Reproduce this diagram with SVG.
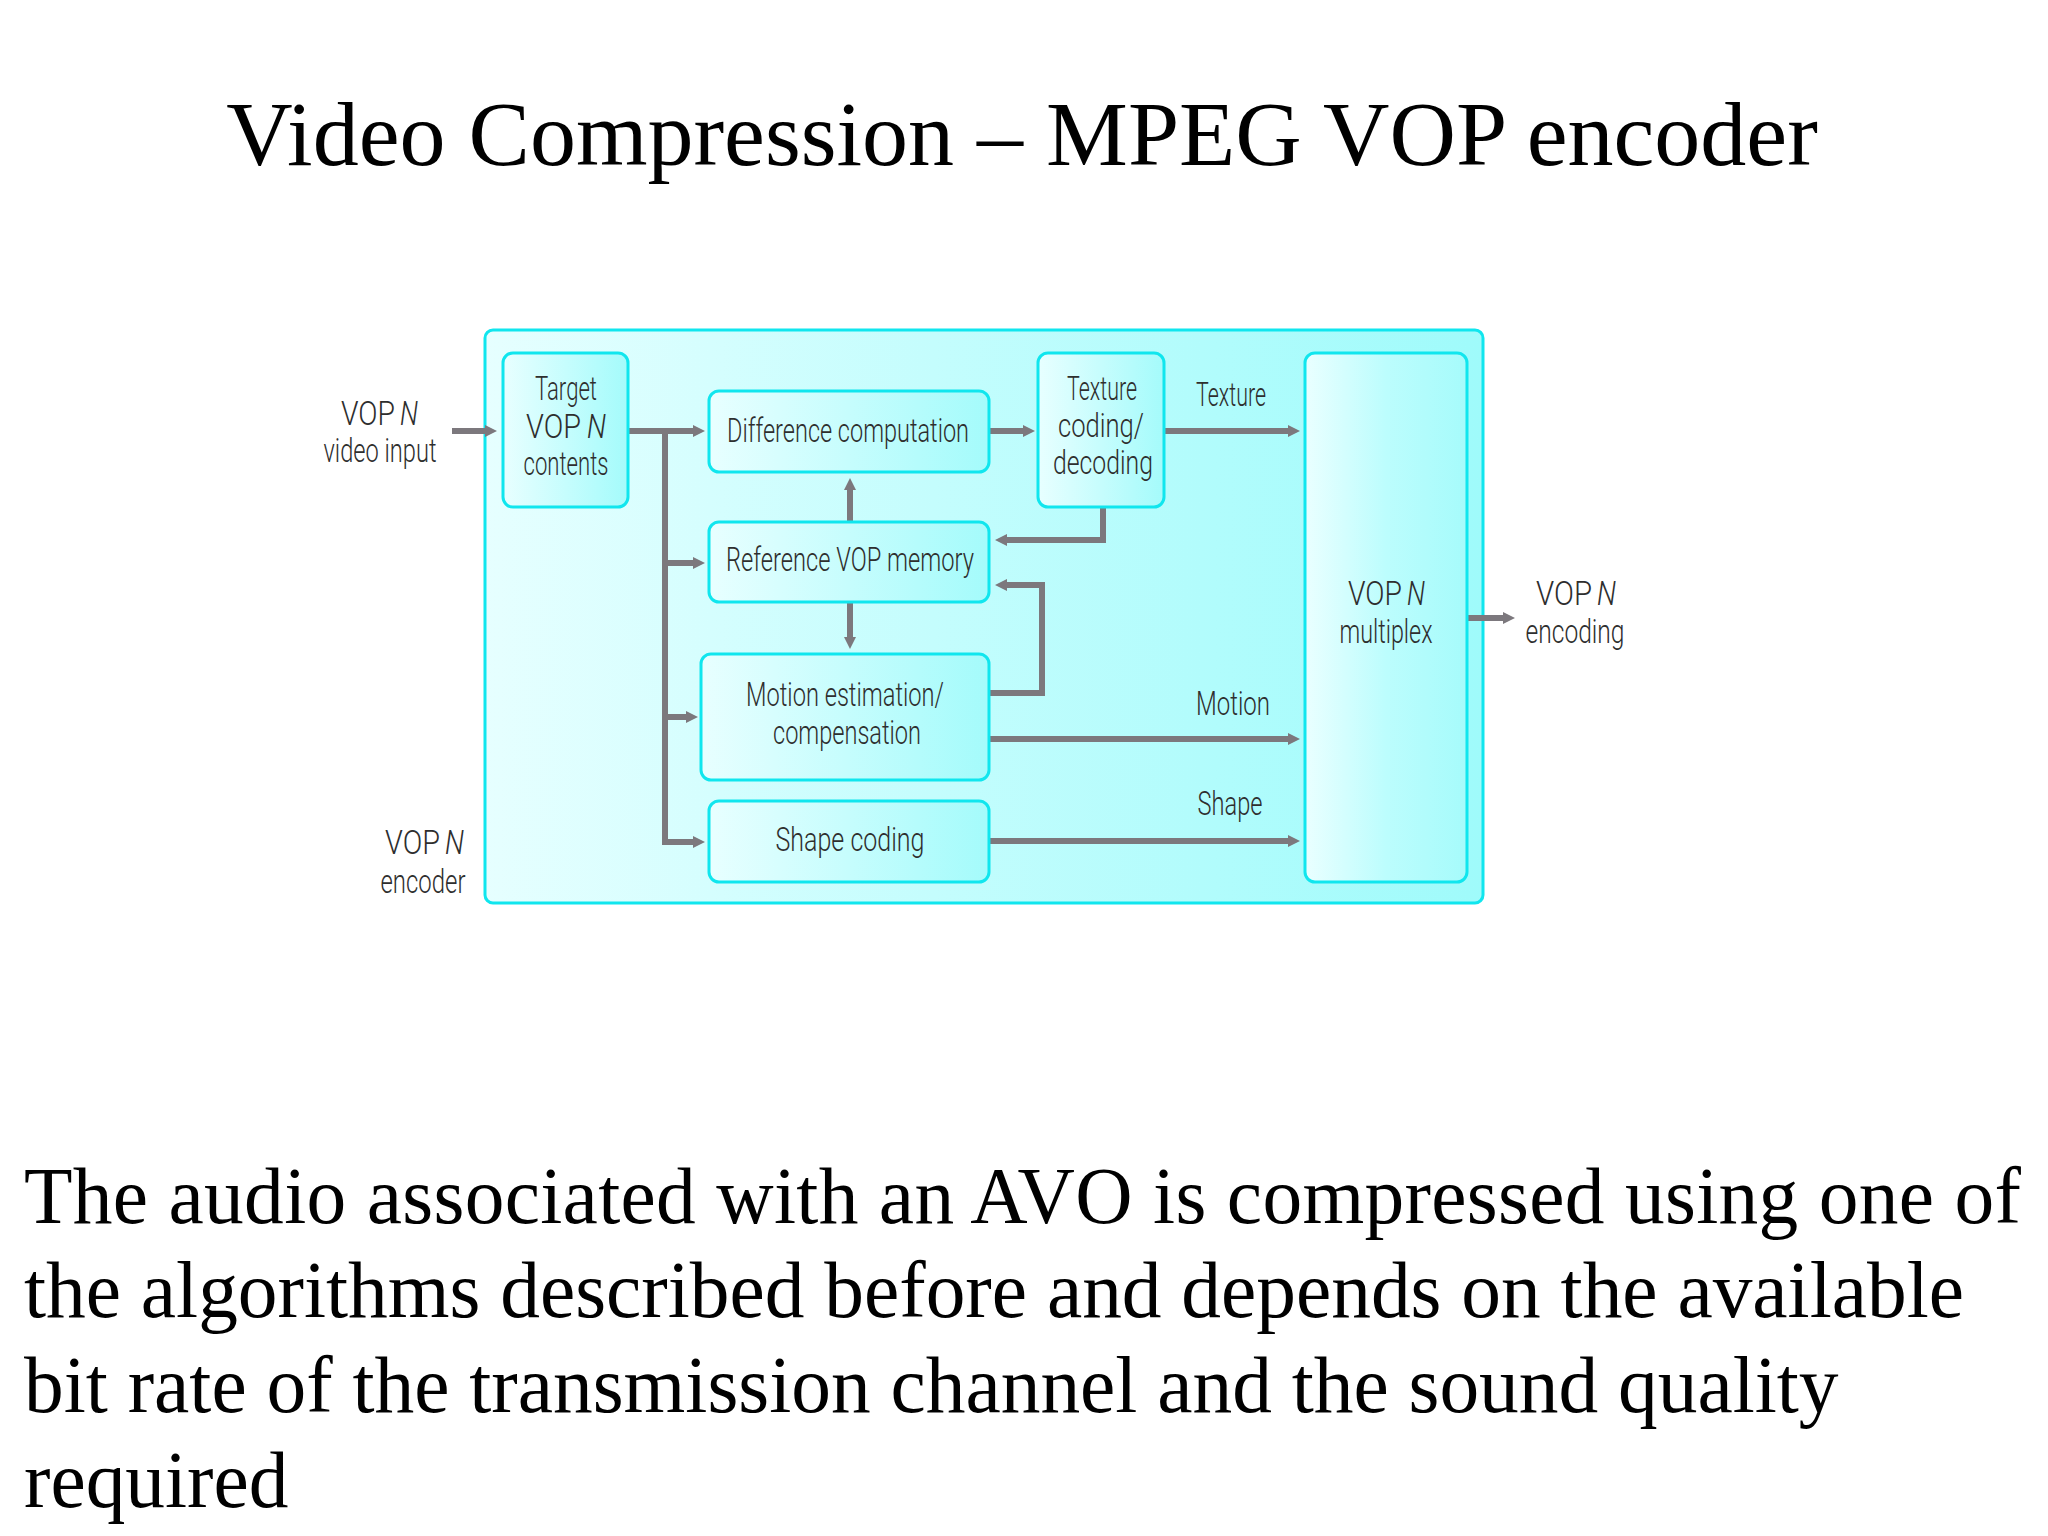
<svg xmlns="http://www.w3.org/2000/svg" width="2048" height="1536" viewBox="0 0 2048 1536">
<defs>
<linearGradient id="gOuter" x1="0" y1="0" x2="1" y2="0">
<stop offset="0" stop-color="#e6ffff"/>
<stop offset="0.45" stop-color="#c4fdfd"/>
<stop offset="1" stop-color="#9ffbfb"/>
</linearGradient>
<linearGradient id="gBox" x1="0" y1="0" x2="1" y2="0">
<stop offset="0" stop-color="#e8ffff"/>
<stop offset="1" stop-color="#a4fbfb"/>
</linearGradient>
<linearGradient id="gMux" x1="0" y1="0" x2="1" y2="0">
<stop offset="0" stop-color="#eaffff"/>
<stop offset="0.5" stop-color="#bcfdfd"/>
<stop offset="1" stop-color="#a6fbfb"/>
</linearGradient>
<marker id="ah" markerUnits="userSpaceOnUse" viewBox="0 0 12 12" refX="4" refY="6" markerWidth="12" markerHeight="12" orient="auto">
<path d="M0,0 L12,6 L0,12 z" fill="#7c787d"/>
</marker>
</defs>
<style>
.title{font-family:"Liberation Serif","Times New Roman",serif;font-size:92px;fill:#000}
.body{font-family:"Liberation Serif","Times New Roman",serif;font-size:79.4px;fill:#000}
.lbl{font-family:Roboto,"Liberation Sans",sans-serif;font-weight:300;font-size:33px;fill:#2e2e2e}
.it{font-style:italic}
.box{fill:url(#gBox);stroke:#10e6ee;stroke-width:3}
.conn{fill:none;stroke:#7c787d;stroke-width:6}
.arr{marker-end:url(#ah)}
</style>
<rect width="2048" height="1536" fill="#ffffff"/>
<text class="title" x="1022" y="165" text-anchor="middle">Video Compression – MPEG VOP encoder</text>

<g id="encoder">
<rect x="485" y="330" width="998" height="573" rx="8" fill="url(#gOuter)" stroke="#10e6ee" stroke-width="3"/>
</g>

<g id="connectors">
<path class="conn arr" d="M452,431 H489"/>
<path class="conn arr" d="M628,431 H697"/>
<path class="conn arr" d="M665,431 V842 H697"/>
<path class="conn arr" d="M665,563 H697"/>
<path class="conn arr" d="M665,717 H690"/>
<path class="conn arr" d="M989,431 H1027"/>
<path class="conn arr" d="M1164,431 H1292"/>
<path class="conn arr" d="M1103,507 V540 H1003"/>
<path class="conn arr" d="M850,522 V486"/>
<path class="conn arr" d="M850,602 V641"/>
<path class="conn arr" d="M989,693 H1042 V585 H1003"/>
<path class="conn arr" d="M989,739 H1292"/>
<path class="conn arr" d="M989,841 H1292"/>
<path class="conn arr" d="M1467,618 H1507"/>
</g>

<g id="target">
<rect class="box" x="503" y="353" width="125" height="154" rx="10"/>
<text class="lbl" x="566" y="400" text-anchor="middle" textLength="62" lengthAdjust="spacingAndGlyphs">Target</text>
<text class="lbl" x="526" y="438" textLength="55" lengthAdjust="spacingAndGlyphs">VOP</text>
<text class="lbl it" x="587" y="438" textLength="19" lengthAdjust="spacingAndGlyphs">N</text>
<text class="lbl" x="566" y="475" text-anchor="middle" textLength="85" lengthAdjust="spacingAndGlyphs">contents</text>
</g>

<g id="difference">
<rect class="box" x="709" y="391" width="280" height="81" rx="10"/>
<text class="lbl" x="848" y="442" text-anchor="middle" textLength="242" lengthAdjust="spacingAndGlyphs">Difference computation</text>
</g>

<g id="texture">
<rect class="box" x="1038" y="353" width="126" height="154" rx="10"/>
<text class="lbl" x="1102" y="400" text-anchor="middle" textLength="70" lengthAdjust="spacingAndGlyphs">Texture</text>
<text class="lbl" x="1101" y="437" text-anchor="middle" textLength="86" lengthAdjust="spacingAndGlyphs">coding/</text>
<text class="lbl" x="1103" y="474" text-anchor="middle" textLength="100" lengthAdjust="spacingAndGlyphs">decoding</text>
</g>

<g id="reference">
<rect class="box" x="709" y="522" width="280" height="80" rx="10"/>
<text class="lbl" x="850" y="571" text-anchor="middle" textLength="248" lengthAdjust="spacingAndGlyphs">Reference VOP memory</text>
</g>

<g id="motion">
<rect class="box" x="701" y="654" width="288" height="126" rx="10"/>
<text class="lbl" x="845" y="706" text-anchor="middle" textLength="198" lengthAdjust="spacingAndGlyphs">Motion estimation/</text>
<text class="lbl" x="847" y="744" text-anchor="middle" textLength="148" lengthAdjust="spacingAndGlyphs">compensation</text>
</g>

<g id="shape">
<rect class="box" x="709" y="801" width="280" height="81" rx="10"/>
<text class="lbl" x="850" y="851" text-anchor="middle" textLength="149" lengthAdjust="spacingAndGlyphs">Shape coding</text>
</g>

<g id="multiplex">
<rect x="1305" y="353" width="162" height="529" rx="10" fill="url(#gMux)" stroke="#10e6ee" stroke-width="3"/>
<text class="lbl" x="1348" y="605" textLength="54" lengthAdjust="spacingAndGlyphs">VOP</text>
<text class="lbl it" x="1407" y="605" textLength="18" lengthAdjust="spacingAndGlyphs">N</text>
<text class="lbl" x="1386" y="643" text-anchor="middle" textLength="93" lengthAdjust="spacingAndGlyphs">multiplex</text>
</g>

<g id="labels">
<text class="lbl" x="341" y="425" textLength="54" lengthAdjust="spacingAndGlyphs">VOP</text>
<text class="lbl it" x="400" y="425" textLength="18" lengthAdjust="spacingAndGlyphs">N</text>
<text class="lbl" x="380" y="462" text-anchor="middle" textLength="113" lengthAdjust="spacingAndGlyphs">video input</text>
<text class="lbl" x="385" y="854" textLength="55" lengthAdjust="spacingAndGlyphs">VOP</text>
<text class="lbl it" x="445" y="854" textLength="19" lengthAdjust="spacingAndGlyphs">N</text>
<text class="lbl" x="423" y="893" text-anchor="middle" textLength="85" lengthAdjust="spacingAndGlyphs">encoder</text>
<text class="lbl" x="1536" y="605" textLength="56" lengthAdjust="spacingAndGlyphs">VOP</text>
<text class="lbl it" x="1597" y="605" textLength="19" lengthAdjust="spacingAndGlyphs">N</text>
<text class="lbl" x="1575" y="643" text-anchor="middle" textLength="99" lengthAdjust="spacingAndGlyphs">encoding</text>
<text class="lbl" x="1231" y="406" text-anchor="middle" textLength="70" lengthAdjust="spacingAndGlyphs">Texture</text>
<text class="lbl" x="1233" y="715" text-anchor="middle" textLength="74" lengthAdjust="spacingAndGlyphs">Motion</text>
<text class="lbl" x="1230" y="815" text-anchor="middle" textLength="65" lengthAdjust="spacingAndGlyphs">Shape</text>
</g>

<g id="bodytext">
<text class="body" x="24" y="1223" textLength="1997" lengthAdjust="spacing">The audio associated with an AVO is compressed using one of</text>
<text class="body" x="24" y="1317">the algorithms described before and depends on the available</text>
<text class="body" x="24" y="1412">bit rate of the transmission channel and the sound quality</text>
<text class="body" x="24" y="1507">required</text>
</g>
</svg>
